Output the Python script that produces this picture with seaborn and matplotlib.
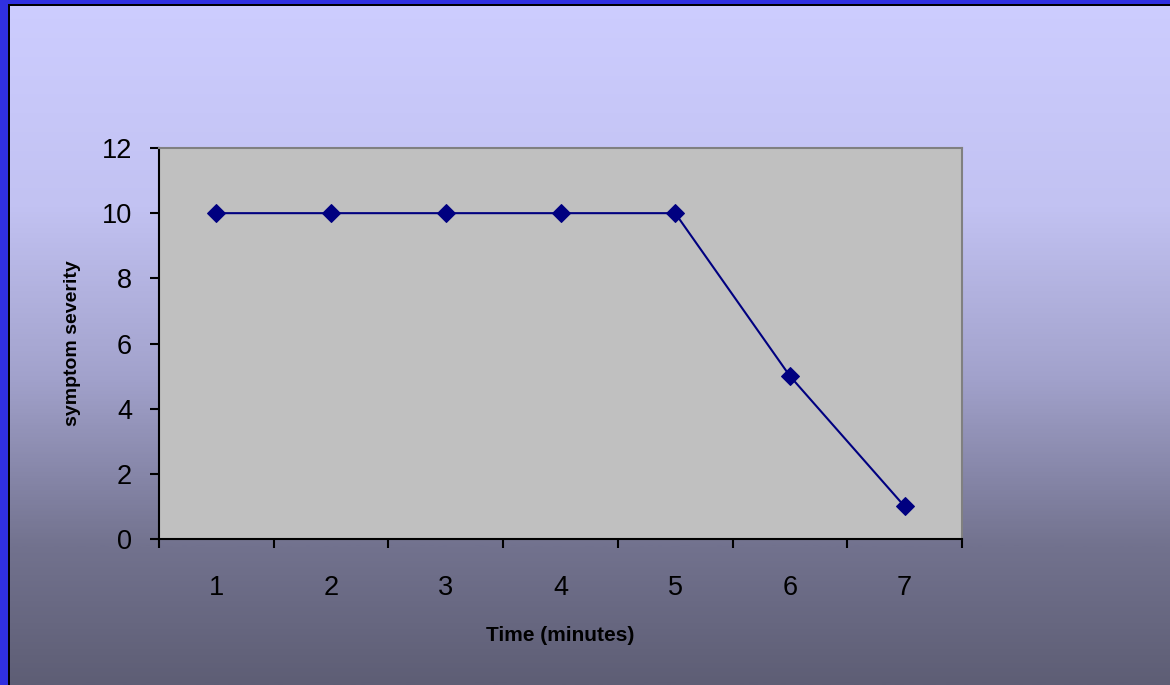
import numpy as np
import pandas as pd
import matplotlib
matplotlib.use('Agg')
import matplotlib.pyplot as plt
from matplotlib.colors import LinearSegmentedColormap
from matplotlib.patches import Rectangle
import seaborn as sns

# data
time_min = [1, 2, 3, 4, 5, 6, 7]
severity = [10, 10, 10, 10, 10, 5, 1]
y_ticks = [0, 2, 4, 6, 8, 10, 12]

df = pd.DataFrame({'time': time_min, 'severity': severity})

sns.set_style('white')
plt.rcParams['font.family'] = ['Liberation Sans', 'DejaVu Sans']
plt.rcParams['text.color'] = 'black'
plt.rcParams['axes.labelcolor'] = 'black'
plt.rcParams['xtick.color'] = 'black'
plt.rcParams['ytick.color'] = 'black'

fig = plt.figure(figsize=(11.7, 6.85), dpi=100)

# gradient slide background
bg = fig.add_axes([0, 0, 1, 1], zorder=0)
cmap = LinearSegmentedColormap.from_list('slide', [
    (0.0, '#CDCDFF'), (0.3, '#C2C2F2'), (0.55, '#A2A2CC'),
    (0.8, '#72728E'), (1.0, '#5E5E75')])
grad = np.linspace(0, 1, 400).reshape(-1, 1)
bg.imshow(grad, aspect='auto', cmap=cmap, extent=[0, 1, 0, 1], origin='upper')
bg.set_xlim(0, 1)
bg.set_ylim(0, 1)
bg.axis('off')
# blue/black frame on left and top
W, H = 1170, 685
bg.add_patch(Rectangle((0, 0), 8 / W, 1, color='#3030E0', lw=0))
bg.add_patch(Rectangle((0, 1 - 4 / H), 1, 4 / H, color='#3030E0', lw=0))
bg.add_patch(Rectangle((8 / W, 0), 2 / W, 1 - 4 / H, color='black', lw=0))
bg.add_patch(Rectangle((8 / W, 1 - 6 / H), 1, 2 / H, color='black', lw=0))

ax = fig.add_axes([159 / W, 1 - 539 / H, (962 - 159) / W, (539 - 148) / H], zorder=1)
ax.set_facecolor('#C0C0C0')
sns.lineplot(data=df, x='time', y='severity', marker='D', color='#000080',
             linewidth=1.5, markersize=9, markeredgecolor='#000080', ax=ax)

ax.set_xlim(0.5, 7.5)
ax.set_ylim(0, 12)
ax.set_yticks(y_ticks)
ax.set_yticklabels([str(v) for v in y_ticks], fontsize=19.5)
# category axis: ticks between categories, labels at centres
ax.set_xticks(np.arange(0.5, 8, 1))
ax.set_xticklabels([])
ax.set_xticks(time_min, minor=True)
ax.set_xticklabels([str(t) for t in time_min], minor=True, fontsize=19.5)
ax.tick_params(axis='x', which='minor', bottom=True, length=0, pad=26)
ax.tick_params(axis='both', which='major', bottom=True, left=True,
               direction='out', length=6.5, width=1.5, color='black')
ax.tick_params(axis='y', pad=13)

for s in ['left', 'bottom']:
    ax.spines[s].set_color('black')
    ax.spines[s].set_linewidth(1.5)
for s in ['top', 'right']:
    ax.spines[s].set_color('#808080')
    ax.spines[s].set_linewidth(1.5)

ax.set_xlabel('Time (minutes)', fontsize=15, fontweight='bold', labelpad=18)
ax.set_ylabel('symptom severity', fontsize=14, fontweight='bold', labelpad=15)

fig.savefig('out.png', dpi=100)
